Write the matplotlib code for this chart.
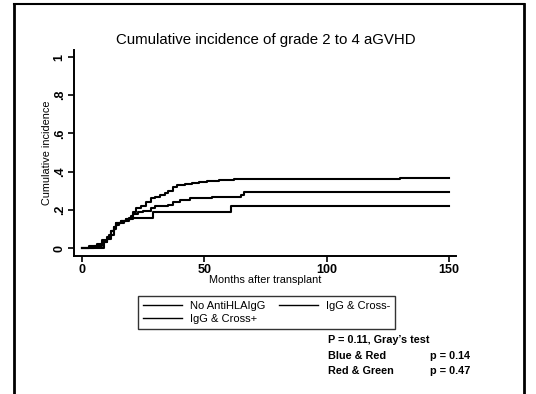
import matplotlib
matplotlib.use("Agg")
import matplotlib.pyplot as plt
from matplotlib.lines import Line2D

title = "Cumulative incidence of grade 2 to 4 aGVHD"
series_labels = ["No AntiHLAIgG", "IgG & Cross-", "IgG & Cross+"]

t_no = [0, 3, 6, 8, 10, 12, 13, 14, 16, 18, 20, 21, 22, 24, 26, 28, 30, 32, 34, 35, 37, 39, 42, 45, 48, 51, 56, 62, 130, 150]
v_no = [0, 0.01, 0.02, 0.04, 0.06, 0.09, 0.11, 0.13, 0.14, 0.15, 0.17, 0.19, 0.21, 0.22, 0.24, 0.26, 0.27, 0.28, 0.29, 0.30, 0.32, 0.33, 0.335, 0.34, 0.345, 0.35, 0.355, 0.36, 0.368, 0.368]

t_neg = [0, 5, 8, 10, 12, 13, 14, 15, 17, 19, 21, 23, 25, 28, 30, 35, 37, 40, 44, 53, 65, 66, 150]
v_neg = [0, 0.01, 0.03, 0.05, 0.07, 0.10, 0.12, 0.13, 0.14, 0.15, 0.18, 0.19, 0.195, 0.21, 0.22, 0.225, 0.24, 0.25, 0.26, 0.265, 0.28, 0.293, 0.293]

t_pos = [0, 9, 10, 11, 12, 13, 14, 16, 18, 19, 29, 61, 150]
v_pos = [0, 0.03, 0.05, 0.07, 0.09, 0.11, 0.13, 0.14, 0.15, 0.16, 0.19, 0.22, 0.22]

x_ticks = [0, 50, 100, 150]
y_ticks = [0, 0.2, 0.4, 0.6, 0.8, 1.0]
y_ticklabels = ["0", ".2", ".4", ".6", ".8", "1"]

plt.rcParams['font.family'] = ['Liberation Sans', 'DejaVu Sans']

fig = plt.figure(figsize=(5.36, 3.94), dpi=100)
ax = fig.add_axes([0.138, 0.350, 0.713, 0.523])

ax.step(t_no, v_no, where='post', color='black', lw=1.5, label=series_labels[0])
ax.step(t_neg, v_neg, where='post', color='black', lw=1.5, label=series_labels[1])
ax.step(t_pos, v_pos, where='post', color='black', lw=1.5, label=series_labels[2])

ax.set_xlim(-3.3, 152.9)
ax.set_ylim(-0.042, 1.037)
ax.set_xticks(x_ticks)
ax.set_xticklabels([str(x) for x in x_ticks], fontsize=9, fontweight='bold')
ax.set_yticks(y_ticks)
ax.set_yticklabels(y_ticklabels, fontsize=9, fontweight='bold', rotation=90, va='center')
ax.spines['top'].set_visible(False)
ax.spines['right'].set_visible(False)
ax.spines['left'].set_linewidth(1.4)
ax.spines['bottom'].set_linewidth(1.4)
ax.tick_params(length=4, width=1.2, pad=2)
ax.set_xlabel("Months after transplant", fontsize=7.8, labelpad=-1)
ax.set_ylabel("Cumulative incidence", fontsize=7.8, labelpad=1)
fig.text(0.495, 0.898, title, ha='center', va='center', fontsize=10.8)

handles, labels = ax.get_legend_handles_labels()
order = [0, 2, 1]
leg = fig.legend([handles[i] for i in order], [labels[i] for i in order],
                 loc='upper left', bbox_to_anchor=(0.248, 0.262), ncol=2,
                 fontsize=8, frameon=True, fancybox=False, edgecolor='black',
                 handlelength=3.5, columnspacing=1.3, borderpad=0.4,
                 labelspacing=0.3, handletextpad=0.7)
leg.get_frame().set_linewidth(1.0)
for h in leg.legend_handles:
    h.set_linewidth(1.0)

fs = 7.8
fig.text(0.612, 0.137, "P = 0.11, Gray\u2019s test", fontsize=fs, fontweight='bold', va='center')
fig.text(0.612, 0.097, "Blue & Red", fontsize=fs, fontweight='bold', va='center')
fig.text(0.802, 0.097, "p = 0.14", fontsize=fs, fontweight='bold', va='center')
fig.text(0.612, 0.058, "Red & Green", fontsize=fs, fontweight='bold', va='center')
fig.text(0.802, 0.058, "p = 0.47", fontsize=fs, fontweight='bold', va='center')

# slide border
fig.add_artist(Line2D([0.026, 0.026], [0, 0.99], transform=fig.transFigure, color='black', lw=2))
fig.add_artist(Line2D([0.977, 0.977], [0, 0.99], transform=fig.transFigure, color='black', lw=2))
fig.add_artist(Line2D([0.026, 0.977], [0.99, 0.99], transform=fig.transFigure, color='black', lw=1.5))

fig.savefig("out.png", dpi=100)
